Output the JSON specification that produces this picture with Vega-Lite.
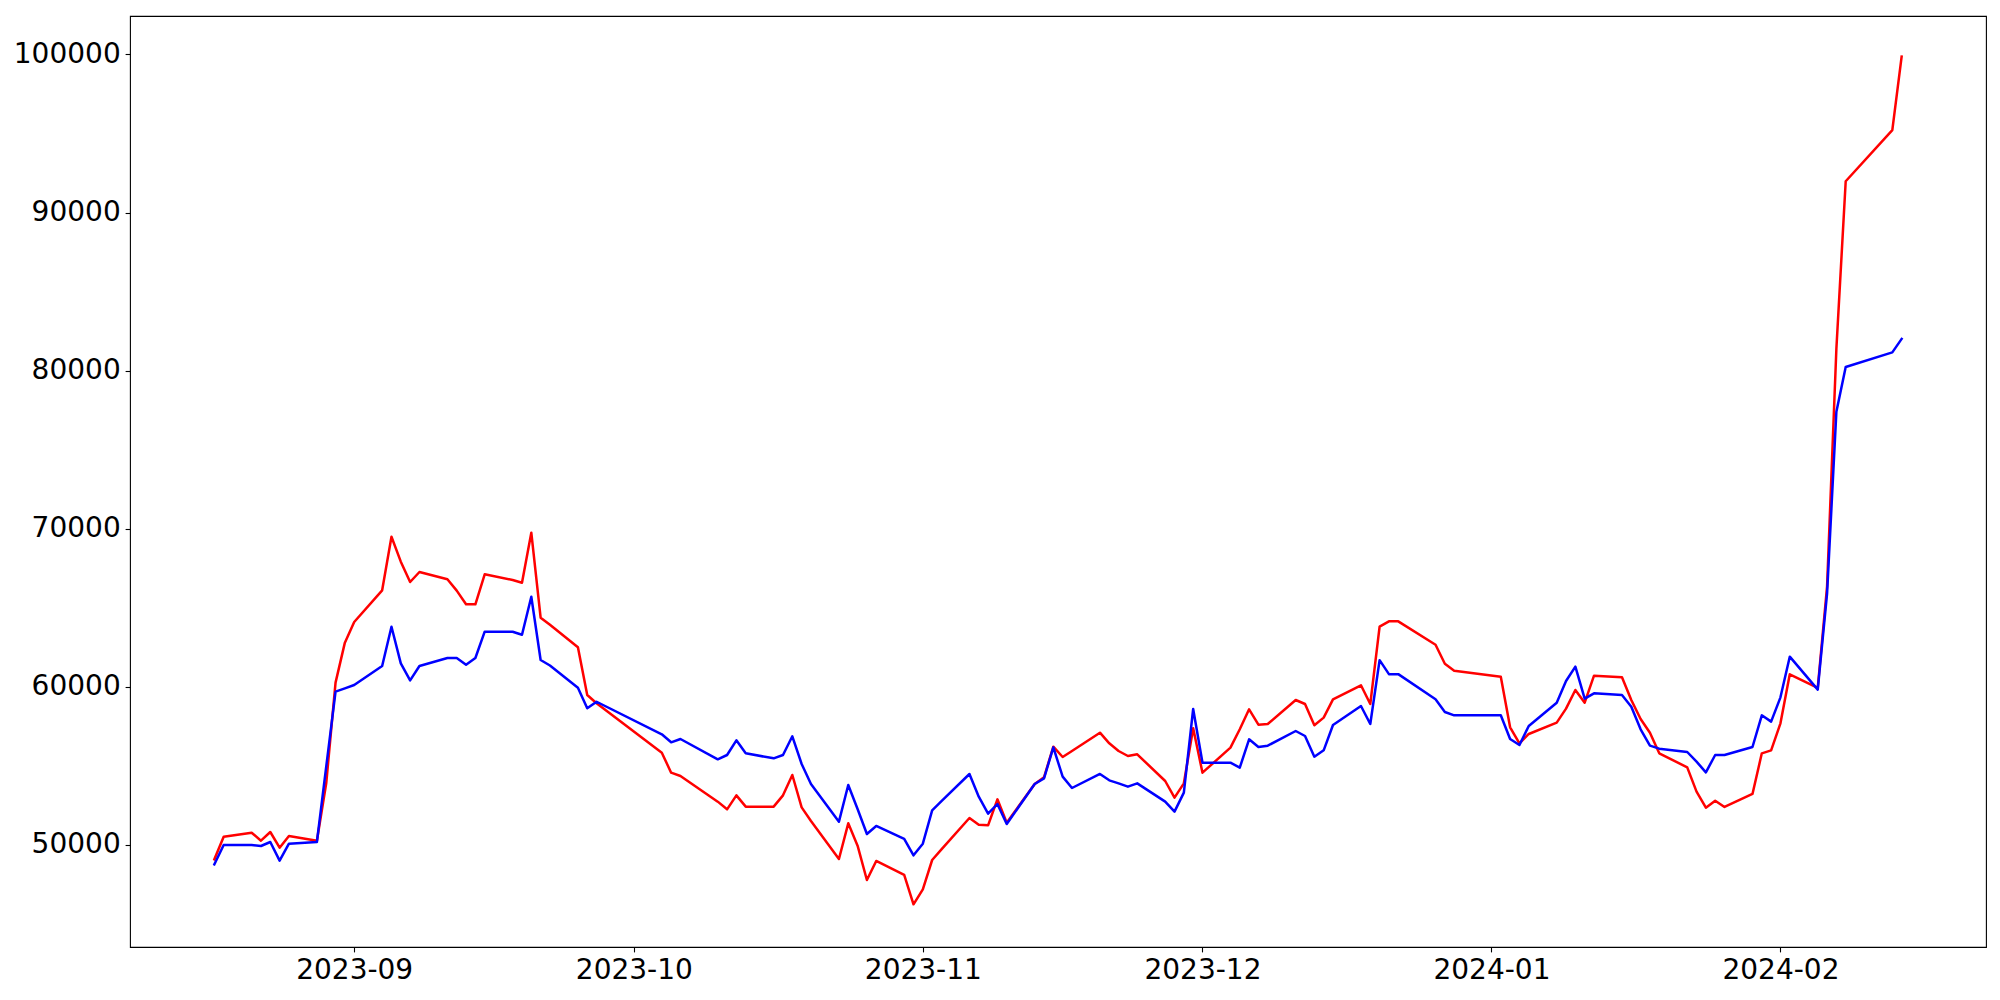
{
  "$schema": "https://vega.github.io/schema/vega-lite/v6.json",
  "width": 1856,
  "height": 931,
  "autosize": {"type": "none"},
  "padding": {"left": 130, "top": 16, "right": 14, "bottom": 53},
  "background": "white",
  "config": {
    "view": {"stroke": "black", "strokeWidth": 1.1},
    "axis": {
      "grid": false,
      "domain": false,
      "ticks": true,
      "tickColor": "black",
      "tickSize": 4.9,
      "tickWidth": 1.1,
      "labelFont": "DejaVu Sans",
      "labelFontSize": 28,
      "labelColor": "black",
      "labelPadding": 4.9,
      "title": null
    }
  },
  "data": {
    "values": [
      {"date": "2023-08-17", "line1": 49096, "line2": 48779},
      {"date": "2023-08-18", "line1": 50525, "line2": 50000},
      {"date": "2023-08-21", "line1": 50778, "line2": 50000},
      {"date": "2023-08-22", "line1": 50272, "line2": 49937},
      {"date": "2023-08-23", "line1": 50822, "line2": 50190},
      {"date": "2023-08-24", "line1": 49831, "line2": 49009},
      {"date": "2023-08-25", "line1": 50569, "line2": 50084},
      {"date": "2023-08-28", "line1": 50272, "line2": 50190},
      {"date": "2023-08-29", "line1": 53901, "line2": 54955},
      {"date": "2023-08-30", "line1": 60268, "line2": 59699},
      {"date": "2023-08-31", "line1": 62798, "line2": 59909},
      {"date": "2023-09-01", "line1": 64105, "line2": 60120},
      {"date": "2023-09-04", "line1": 66108, "line2": 61322},
      {"date": "2023-09-05", "line1": 69500, "line2": 63808},
      {"date": "2023-09-06", "line1": 67920, "line2": 61490},
      {"date": "2023-09-07", "line1": 66635, "line2": 60415},
      {"date": "2023-09-08", "line1": 67268, "line2": 61322},
      {"date": "2023-09-11", "line1": 66804, "line2": 61828},
      {"date": "2023-09-12", "line1": 66087, "line2": 61828},
      {"date": "2023-09-13", "line1": 65226, "line2": 61406},
      {"date": "2023-09-14", "line1": 65226, "line2": 61828},
      {"date": "2023-09-15", "line1": 67120, "line2": 63491},
      {"date": "2023-09-18", "line1": 66760, "line2": 63491},
      {"date": "2023-09-19", "line1": 66591, "line2": 63301},
      {"date": "2023-09-20", "line1": 69753, "line2": 65705},
      {"date": "2023-09-21", "line1": 64380, "line2": 61701},
      {"date": "2023-09-22", "line1": 63927, "line2": 61354},
      {"date": "2023-09-25", "line1": 62504, "line2": 59949},
      {"date": "2023-09-26", "line1": 59488, "line2": 58645},
      {"date": "2023-09-27", "line1": 58962, "line2": 59060},
      {"date": "2023-10-04", "line1": 55838, "line2": 57000},
      {"date": "2023-10-05", "line1": 54573, "line2": 56494},
      {"date": "2023-10-06", "line1": 54364, "line2": 56705},
      {"date": "2023-10-10", "line1": 52741, "line2": 55420},
      {"date": "2023-10-11", "line1": 52256, "line2": 55692},
      {"date": "2023-10-12", "line1": 53141, "line2": 56620},
      {"date": "2023-10-13", "line1": 52425, "line2": 55797},
      {"date": "2023-10-16", "line1": 52425, "line2": 55481},
      {"date": "2023-10-17", "line1": 53141, "line2": 55692},
      {"date": "2023-10-18", "line1": 54428, "line2": 56874},
      {"date": "2023-10-19", "line1": 52382, "line2": 55123},
      {"date": "2023-10-20", "line1": 51518, "line2": 53858},
      {"date": "2023-10-23", "line1": 49115, "line2": 51476},
      {"date": "2023-10-24", "line1": 51370, "line2": 53795},
      {"date": "2023-10-25", "line1": 49958, "line2": 52277},
      {"date": "2023-10-26", "line1": 47786, "line2": 50696},
      {"date": "2023-10-27", "line1": 48988, "line2": 51202},
      {"date": "2023-10-30", "line1": 48103, "line2": 50380},
      {"date": "2023-10-31", "line1": 46249, "line2": 49346},
      {"date": "2023-11-01", "line1": 47198, "line2": 50084},
      {"date": "2023-11-02", "line1": 49051, "line2": 52193},
      {"date": "2023-11-03", "line1": 49726, "line2": 52772},
      {"date": "2023-11-06", "line1": 51708, "line2": 54491},
      {"date": "2023-11-07", "line1": 51286, "line2": 53057},
      {"date": "2023-11-08", "line1": 51244, "line2": 51982},
      {"date": "2023-11-09", "line1": 52889, "line2": 52593},
      {"date": "2023-11-10", "line1": 51413, "line2": 51328},
      {"date": "2023-11-13", "line1": 53858, "line2": 53858},
      {"date": "2023-11-14", "line1": 54280, "line2": 54217},
      {"date": "2023-11-15", "line1": 56218, "line2": 56176},
      {"date": "2023-11-16", "line1": 55566, "line2": 54322},
      {"date": "2023-11-17", "line1": 55946, "line2": 53605},
      {"date": "2023-11-20", "line1": 57103, "line2": 54491},
      {"date": "2023-11-21", "line1": 56432, "line2": 54090},
      {"date": "2023-11-22", "line1": 55946, "line2": 53900},
      {"date": "2023-11-23", "line1": 55629, "line2": 53689},
      {"date": "2023-11-24", "line1": 55735, "line2": 53900},
      {"date": "2023-11-27", "line1": 54048, "line2": 52741},
      {"date": "2023-11-28", "line1": 52994, "line2": 52108},
      {"date": "2023-11-29", "line1": 53900, "line2": 53310},
      {"date": "2023-11-30", "line1": 57379, "line2": 58602},
      {"date": "2023-12-01", "line1": 54573, "line2": 55206},
      {"date": "2023-12-04", "line1": 56155, "line2": 55206},
      {"date": "2023-12-05", "line1": 57318, "line2": 54891},
      {"date": "2023-12-06", "line1": 58583, "line2": 56684},
      {"date": "2023-12-07", "line1": 57610, "line2": 56198},
      {"date": "2023-12-08", "line1": 57653, "line2": 56282},
      {"date": "2023-12-11", "line1": 59171, "line2": 57211},
      {"date": "2023-12-12", "line1": 58918, "line2": 56895},
      {"date": "2023-12-13", "line1": 57571, "line2": 55586},
      {"date": "2023-12-14", "line1": 58054, "line2": 55988},
      {"date": "2023-12-15", "line1": 59213, "line2": 57590},
      {"date": "2023-12-18", "line1": 60101, "line2": 58792},
      {"date": "2023-12-19", "line1": 58918, "line2": 57653},
      {"date": "2023-12-20", "line1": 63808, "line2": 61690},
      {"date": "2023-12-21", "line1": 64146, "line2": 60806},
      {"date": "2023-12-22", "line1": 64146, "line2": 60806},
      {"date": "2023-12-26", "line1": 62669, "line2": 59213},
      {"date": "2023-12-27", "line1": 61467, "line2": 58412},
      {"date": "2023-12-28", "line1": 61025, "line2": 58201},
      {"date": "2024-01-02", "line1": 60645, "line2": 58201},
      {"date": "2024-01-03", "line1": 57444, "line2": 56705},
      {"date": "2024-01-04", "line1": 56432, "line2": 56325},
      {"date": "2024-01-05", "line1": 57021, "line2": 57527},
      {"date": "2024-01-08", "line1": 57738, "line2": 59000},
      {"date": "2024-01-09", "line1": 58624, "line2": 60373},
      {"date": "2024-01-10", "line1": 59804, "line2": 61278},
      {"date": "2024-01-11", "line1": 59000, "line2": 59256},
      {"date": "2024-01-12", "line1": 60708, "line2": 59594},
      {"date": "2024-01-15", "line1": 60607, "line2": 59488},
      {"date": "2024-01-16", "line1": 59171, "line2": 58749},
      {"date": "2024-01-17", "line1": 57970, "line2": 57318},
      {"date": "2024-01-18", "line1": 57103, "line2": 56282},
      {"date": "2024-01-19", "line1": 55797, "line2": 56092},
      {"date": "2024-01-22", "line1": 54912, "line2": 55882},
      {"date": "2024-01-23", "line1": 53373, "line2": 55271},
      {"date": "2024-01-24", "line1": 52362, "line2": 54597},
      {"date": "2024-01-25", "line1": 52804, "line2": 55692},
      {"date": "2024-01-26", "line1": 52404, "line2": 55692},
      {"date": "2024-01-29", "line1": 53226, "line2": 56198},
      {"date": "2024-01-30", "line1": 55797, "line2": 58201},
      {"date": "2024-01-31", "line1": 55986, "line2": 57801},
      {"date": "2024-02-01", "line1": 57696, "line2": 59340},
      {"date": "2024-02-02", "line1": 60797, "line2": 61911},
      {"date": "2024-02-05", "line1": 59930, "line2": 59830},
      {"date": "2024-02-06", "line1": 66350, "line2": 65900},
      {"date": "2024-02-07", "line1": 81390, "line2": 77410},
      {"date": "2024-02-08", "line1": 91980, "line2": 80230},
      {"date": "2024-02-13", "line1": 95220, "line2": 81160},
      {"date": "2024-02-14", "line1": 99870, "line2": 82010}
    ]
  },
  "encoding": {
    "x": {
      "field": "date",
      "type": "temporal",
      "scale": {"type": "utc", "domain": [1691448480000, 1708650720000], "nice": false},
      "axis": {
        "values": [1693526400000, 1696118400000, 1698796800000, 1701388800000, 1704067200000, 1706745600000],
        "format": "%Y-%m",
        "labelAngle": 0,
        "labelAlign": "center"
      }
    }
  },
  "layer": [
    {
      "mark": {"type": "line", "color": "#ff0000", "strokeWidth": 2.5, "strokeJoin": "round", "strokeCap": "square"},
      "encoding": {
        "y": {
          "field": "line1",
          "type": "quantitative",
          "scale": {"domain": [43548, 102434], "nice": false, "zero": false},
          "axis": {"values": [50000, 60000, 70000, 80000, 90000, 100000], "format": "d"}
        }
      }
    },
    {
      "mark": {"type": "line", "color": "#0000ff", "strokeWidth": 2.5, "strokeJoin": "round", "strokeCap": "square"},
      "encoding": {
        "y": {"field": "line2", "type": "quantitative"}
      }
    }
  ]
}
